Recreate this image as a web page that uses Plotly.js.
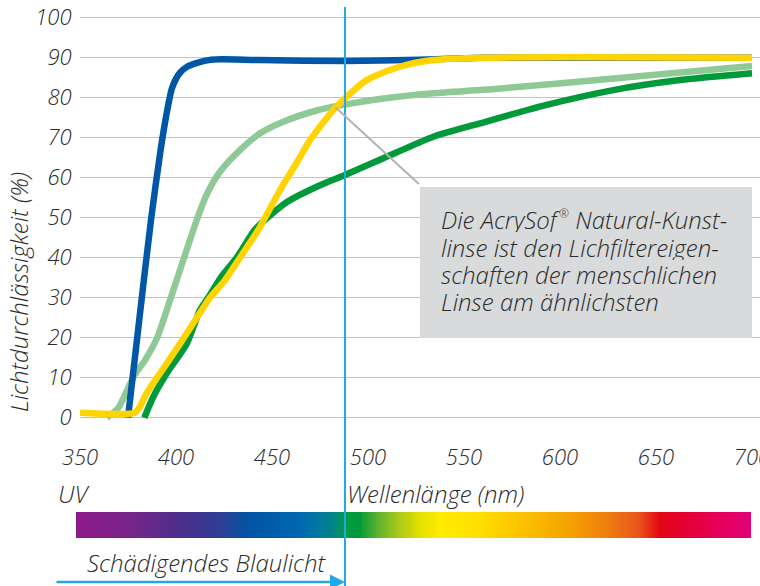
<!DOCTYPE html>
<html>
<head>
<meta charset="utf-8">
<script src="https://cdn.plot.ly/plotly-3.0.1.min.js"></script>
<style>html,body{margin:0;padding:0;background:#fff;}#chart{width:760px;height:586px;}</style>
</head>
<body>
<div id="chart"></div>
<script>
// ---- data ----
const blueX = [375, 381, 387, 392, 395.5, 398, 402, 406, 411, 417, 423, 444, 488, 527, 545, 560, 700];
const blueY = [0, 25, 49.5, 67, 77, 82.5, 86.2, 87.8, 88.7, 89.4, 89.6, 89.4, 89.2, 89.5, 89.8, 90, 90];

const lightGreenX = [364, 370, 378, 384, 390, 396.9, 403.8, 410.8, 416, 422.9, 433.3, 443.8, 455.9, 473.3, 487, 508, 534, 558, 569, 628, 700];
const lightGreenY = [0, 2.5, 10.3, 14.5, 19.8, 29.4, 39.4, 49.4, 55.8, 61.5, 66.9, 71.1, 74, 76.8, 78.2, 79.8, 81.1, 81.9, 82.3, 84.8, 87.9];

const darkGreenX = [383.5, 388.2, 395.2, 405.6, 412.5, 416.7, 424, 431.6, 441.1, 450, 458, 473.3, 488, 508, 534, 558.3, 593, 627.8, 662.5, 700];
const darkGreenY = [0, 5.25, 11.1, 18.5, 26.9, 30, 35.5, 40, 47, 51, 54, 57.75, 60.7, 64.85, 70.25, 73.6, 78.2, 81.9, 84.4, 86.1];

const yellowX = [350, 378.6, 381.25, 384.7, 391.7, 402.1, 413.4, 417.7, 425.5, 433.3, 442.9, 454.2, 463.7, 469.8, 481.9, 488, 499.3, 516.7, 534, 560, 700];
const yellowY = [1.25, 1.25, 2.75, 6.1, 11.1, 18.5, 26.9, 30, 34.4, 40, 47, 56.9, 64.4, 69.4, 76.9, 79.85, 84.4, 87.75, 89.4, 90, 90];

const xTickVals = [350, 400, 450, 500, 550, 600, 650, 700];
const yTickVals = [0, 10, 20, 30, 40, 50, 60, 70, 80, 90, 100];

const blueLightLimit = 488;          // boundary of harmful blue light (nm)
const pointerNm = 483, pointerPct = 77.6; // point on the natural-lens curve that the note refers to

const spectrumStart = 350, spectrumEnd = 700;

const yTitle = 'Lichtdurchlässigkeit (%)';
const xTitle = 'Wellenlänge (nm)';
const uvLabel = 'UV';
const blueLabel = 'Schädigendes Blaulicht';
const noteLines = ['Die AcrySof\u200a<sup><span style="font-size:12px">®</span></sup> Natural-Kunst-', 'linse ist den Lichfiltereigen-', 'schaften der menschlichen', 'Linse am ähnlichsten'];

// ---- chart ----
const FONT = '"Open Sans", "Noto Sans", sans-serif';
const TXT = '#2b2b2b';
const W = 760, H = 586;
const py = p => 1 - p / H, px = p => p / W;
const textFont = size => ({family: FONT, size: size, color: TXT, style: 'italic', weight: 300});

function line(x, y, color) {
  return {x: x, y: y, type: 'scatter', mode: 'lines', hoverinfo: 'skip',
          line: {color: color, width: 6.5, shape: 'spline', smoothing: 0.7}, xaxis: 'x', yaxis: 'y'};
}

const spectrumX = [];
for (let w = spectrumStart; w <= spectrumEnd; w += 1) spectrumX.push(w);
const spectrumStops = [
  [348, '#8c1a8a'], [376, '#7a2388'], [405, '#4a2f8c'], [425, '#2d3f94'], [440, '#0055a4'],
  [465, '#0067b2'], [476, '#00799f'], [485, '#00897c'], [489, '#009a45'], [497, '#00993a'],
  [506, '#5bb22e'], [517, '#a9c81a'], [528, '#e3df00'], [538, '#ffeb00'], [558, '#ffdf00'],
  [580, '#fcc300'], [605, '#f5a200'], [626, '#ee7c10'], [642, '#e8531b'], [652, '#e30613'],
  [668, '#e5003a'], [700, '#e2007a']
];
const colorscale = spectrumStops.map(s => [Math.min(1, Math.max(0, (s[0] - spectrumStart) / (spectrumEnd - spectrumStart))), s[1]]);

const traces = [
  line(lightGreenX, lightGreenY, '#8fca96'),
  line(blueX, blueY, '#0057a6'),
  line(darkGreenX, darkGreenY, '#009a3b'),
  line(yellowX, yellowY, '#ffd400'),
  {type: 'heatmap', x: spectrumX, y: [0], z: [spectrumX], zmin: spectrumStart, zmax: spectrumEnd,
   colorscale: colorscale, showscale: false, hoverinfo: 'skip', xaxis: 'x2', yaxis: 'y2', zsmooth: 'best'}
];

const noteAnn = noteLines.map((t, i) => ({
  text: t, xref: 'paper', yref: 'paper', x: px(439), y: py([219, 246.5, 274, 301][i]),
  xanchor: 'left', yanchor: 'middle', showarrow: false, height: 26, valign: 'middle', font: textFont(24)
}));

const layout = {
  width: W, height: H,
  margin: {l: 0, r: 0, t: 0, b: 0},
  paper_bgcolor: '#fff', plot_bgcolor: 'rgba(0,0,0,0)',
  showlegend: false,
  xaxis: {domain: [px(80), px(759.7)], range: [350, 704], showgrid: false, zeroline: false, showline: false,
          tickvals: xTickVals, ticktext: xTickVals.map(v => '<i>' + v + '</i>'),
          ticks: 'outside', ticklen: 8, tickcolor: 'rgba(0,0,0,0)', ticklabeloverflow: 'allow',
          tickfont: textFont(22), fixedrange: true},
  yaxis: {domain: [py(429.7), py(5.7)], range: [-3, 103], showgrid: true, gridcolor: '#c2c2c2', gridwidth: 1.5,
          zeroline: false, showline: false, tickvals: yTickVals, ticktext: yTickVals.map(v => '<i>' + v + '</i>'),
          ticks: 'outside', ticklen: 3, tickcolor: 'rgba(0,0,0,0)', ticklabeloverflow: 'allow',
          tickfont: textFont(22), fixedrange: true},
  xaxis2: {domain: [px(76), px(751)], range: [spectrumStart, spectrumEnd], anchor: 'y2', visible: false, fixedrange: true},
  yaxis2: {domain: [py(538), py(512)], range: [-0.5, 0.5], anchor: 'x2', visible: false, fixedrange: true},
  shapes: [
    {type: 'rect', xref: 'paper', yref: 'paper', x0: px(420), x1: px(752), y0: py(338), y1: py(187),
     fillcolor: '#d9dadb', line: {width: 0}, layer: 'above'},
    {type: 'line', xref: 'x', yref: 'paper', x0: blueLightLimit, x1: blueLightLimit, y0: 0, y1: py(7),
     line: {color: '#22a9e3', width: 2}, layer: 'above'}
  ],
  annotations: [
    {text: '', x: pointerNm, y: pointerPct, xref: 'x', yref: 'y', showarrow: true, arrowhead: 0,
     arrowwidth: 2, arrowcolor: '#b3b3b3', ax: 85, ay: 78, standoff: 0},
    {text: yTitle, xref: 'paper', yref: 'paper', x: px(18), y: py(292), textangle: -90, showarrow: false,
     xanchor: 'center', yanchor: 'middle', font: textFont(24)},
    {text: uvLabel, xref: 'paper', yref: 'paper', x: px(56), y: py(493), xanchor: 'left', yanchor: 'middle',
     showarrow: false, font: textFont(24)},
    {text: xTitle, xref: 'paper', yref: 'paper', x: px(345), y: py(493), xanchor: 'left', yanchor: 'middle',
     showarrow: false, font: textFont(24)},
    {text: blueLabel, xref: 'paper', yref: 'paper', x: px(85), y: py(562), xanchor: 'left', yanchor: 'middle',
     showarrow: false, font: textFont(24)},
    {text: '', x: blueLightLimit, y: py(582), xref: 'x', yref: 'paper', showarrow: true, arrowhead: 2,
     arrowsize: 1.2, arrowwidth: 2.5, arrowcolor: '#22a9e3', ax: -290, ay: 0, standoff: 0}
  ].concat(noteAnn)
};

Plotly.newPlot('chart', traces, layout, {displayModeBar: false, staticPlot: true});
</script>
</body>
</html>
